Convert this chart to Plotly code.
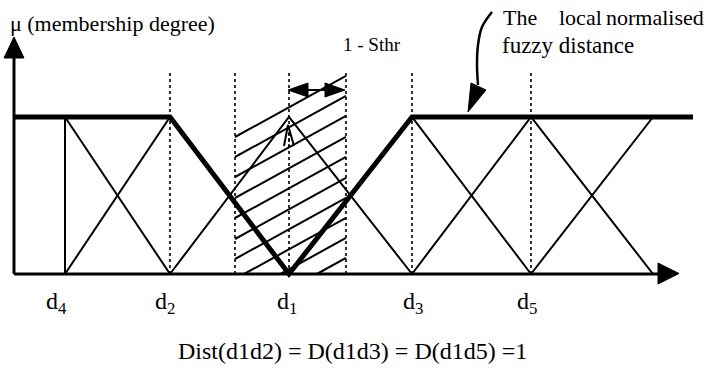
import plotly.graph_objects as go

# ---- data (diagram units: x in page pixels, mu in membership degree) ----
node_names = ["d<sub>4</sub>", "d<sub>2</sub>", "d<sub>1</sub>", "d<sub>3</sub>", "d<sub>5</sub>"]
node_x = [65, 170, 289, 412, 531]
node_label_x = [56, 165, 287, 413, 527]
right_end = 653
axis_x0 = 14
hatch_left = 235
hatch_right = 346
# fuzzy distance (thick) curve
dist_x = [14, 170, 289, 412, 693]
dist_mu = [1, 1, 0, 1, 1]
# hatch line intercepts (pixel y at hatch_left)
hatch_offsets = [137, 157, 177, 198, 218, 239, 259, 279, 299, 319, 339]
dotted_x = [170, 235, 289, 346, 412, 531]

BASE = 274.0
TOP = 117.0
SCALE = BASE - TOP


def P(py):
    return (BASE - py) / SCALE


fig = go.Figure()
BLACK = "black"


def line(xs, ys, w=2, dash=None):
    fig.add_trace(go.Scatter(x=xs, y=ys, mode="lines",
                             line=dict(color=BLACK, width=w, dash=dash),
                             hoverinfo="skip", showlegend=False))


def poly(xs, ys):
    fig.add_trace(go.Scatter(x=xs + [xs[0]], y=ys + [ys[0]], mode="lines",
                             fill="toself", fillcolor=BLACK,
                             line=dict(color=BLACK, width=1),
                             hoverinfo="skip", showlegend=False))


# dotted verticals
for dx in dotted_x:
    line([dx, dx], [0, P(70)], w=1.6, dash="dot")

# hatching
slope = 0.55
for y0 in hatch_offsets:
    if y0 <= BASE:
        xa, ya = hatch_left, y0
    else:
        xa, ya = hatch_left + (y0 - BASE) / slope, BASE
    xb = hatch_right
    yb = y0 - slope * (xb - hatch_left)
    if yb < 72:
        xb = hatch_left + (y0 - 72) / slope
        yb = 72
    if xa < xb:
        line([xa, xb], [P(ya), P(yb)], w=2)

# thin membership triangles
line([node_x[0], node_x[0]], [0, 1], w=2)
line([node_x[0], node_x[1]], [1, 0], w=2)
centers = node_x[1:]
lefts = [node_x[0]] + node_x[1:-1]
rights = node_x[2:] + [right_end]
for c, l, r in zip(centers, lefts, rights):
    line([l, c, r], [0, 1, 0], w=2)
line([node_x[-1], right_end], [0, 1], w=2)

# small marker at d1 apex
line([284, 288, 294], [P(146), P(125), P(146)], w=2)
line([289, 289], [P(132), P(146)], w=1.5, dash="dot")

# axes
line([axis_x0, axis_x0], [0, P(56)], w=3)
poly([4, 14, 24], [P(58), P(37), P(58)])
line([axis_x0, 660], [0, 0], w=3)
poly([658, 679, 658], [P(263), P(273.5), P(284)])

# thick fuzzy distance line
line(dist_x, dist_mu, w=5)

# double arrow "1 - Sthr"
line([300, 333], [P(90), P(90)], w=2)
poly([288, 308, 308], [P(90), P(83), P(97)])
poly([345, 325, 325], [P(90), P(83), P(97)])

# curved arrow
fig.add_trace(go.Scatter(x=[492, 482, 478, 477, 478], y=[P(12), P(27), P(45), P(65), P(85)],
                         mode="lines", line=dict(color=BLACK, width=2.5, shape="spline"),
                         hoverinfo="skip", showlegend=False))
poly([471, 486, 468], [P(83), P(90), P(112)])

FONT = "Liberation Serif"
ann = []


def text(x, y, s, size, anchor="left", yanchor="middle"):
    ann.append(dict(x=x, y=P(y), xref="x", yref="y", text=s, showarrow=False,
                    xanchor=anchor, yanchor=yanchor,
                    font=dict(family=FONT, size=size, color=BLACK)))


text(8, 23, "μ (membership degree)", 22)
text(341, 44, "1 - Sthr", 19)
text(501, 17, "The", 22)
text(557, 17, "local", 22)
text(706, 17, "normalised", 22, anchor="right")
text(500, 45, "fuzzy distance", 23)
for nx, nm in zip(node_label_x, node_names):
    text(nx, 303, nm, 24, anchor="center")
text(352, 351, "Dist(d1d2) = D(d1d3) = D(d1d5) =1", 24, anchor="center")

fig.update_layout(
    width=719, height=370,
    margin=dict(l=0, r=0, t=0, b=0),
    paper_bgcolor="white", plot_bgcolor="white",
    xaxis=dict(range=[0, 719], visible=False, fixedrange=True),
    yaxis=dict(range=[P(370), P(0)], visible=False, fixedrange=True),
    annotations=ann,
    showlegend=False,
)
fig.write_html("out.html", config={"displayModeBar": False},
               post_script="document.body.style.margin='0';document.body.style.overflow='hidden';")
